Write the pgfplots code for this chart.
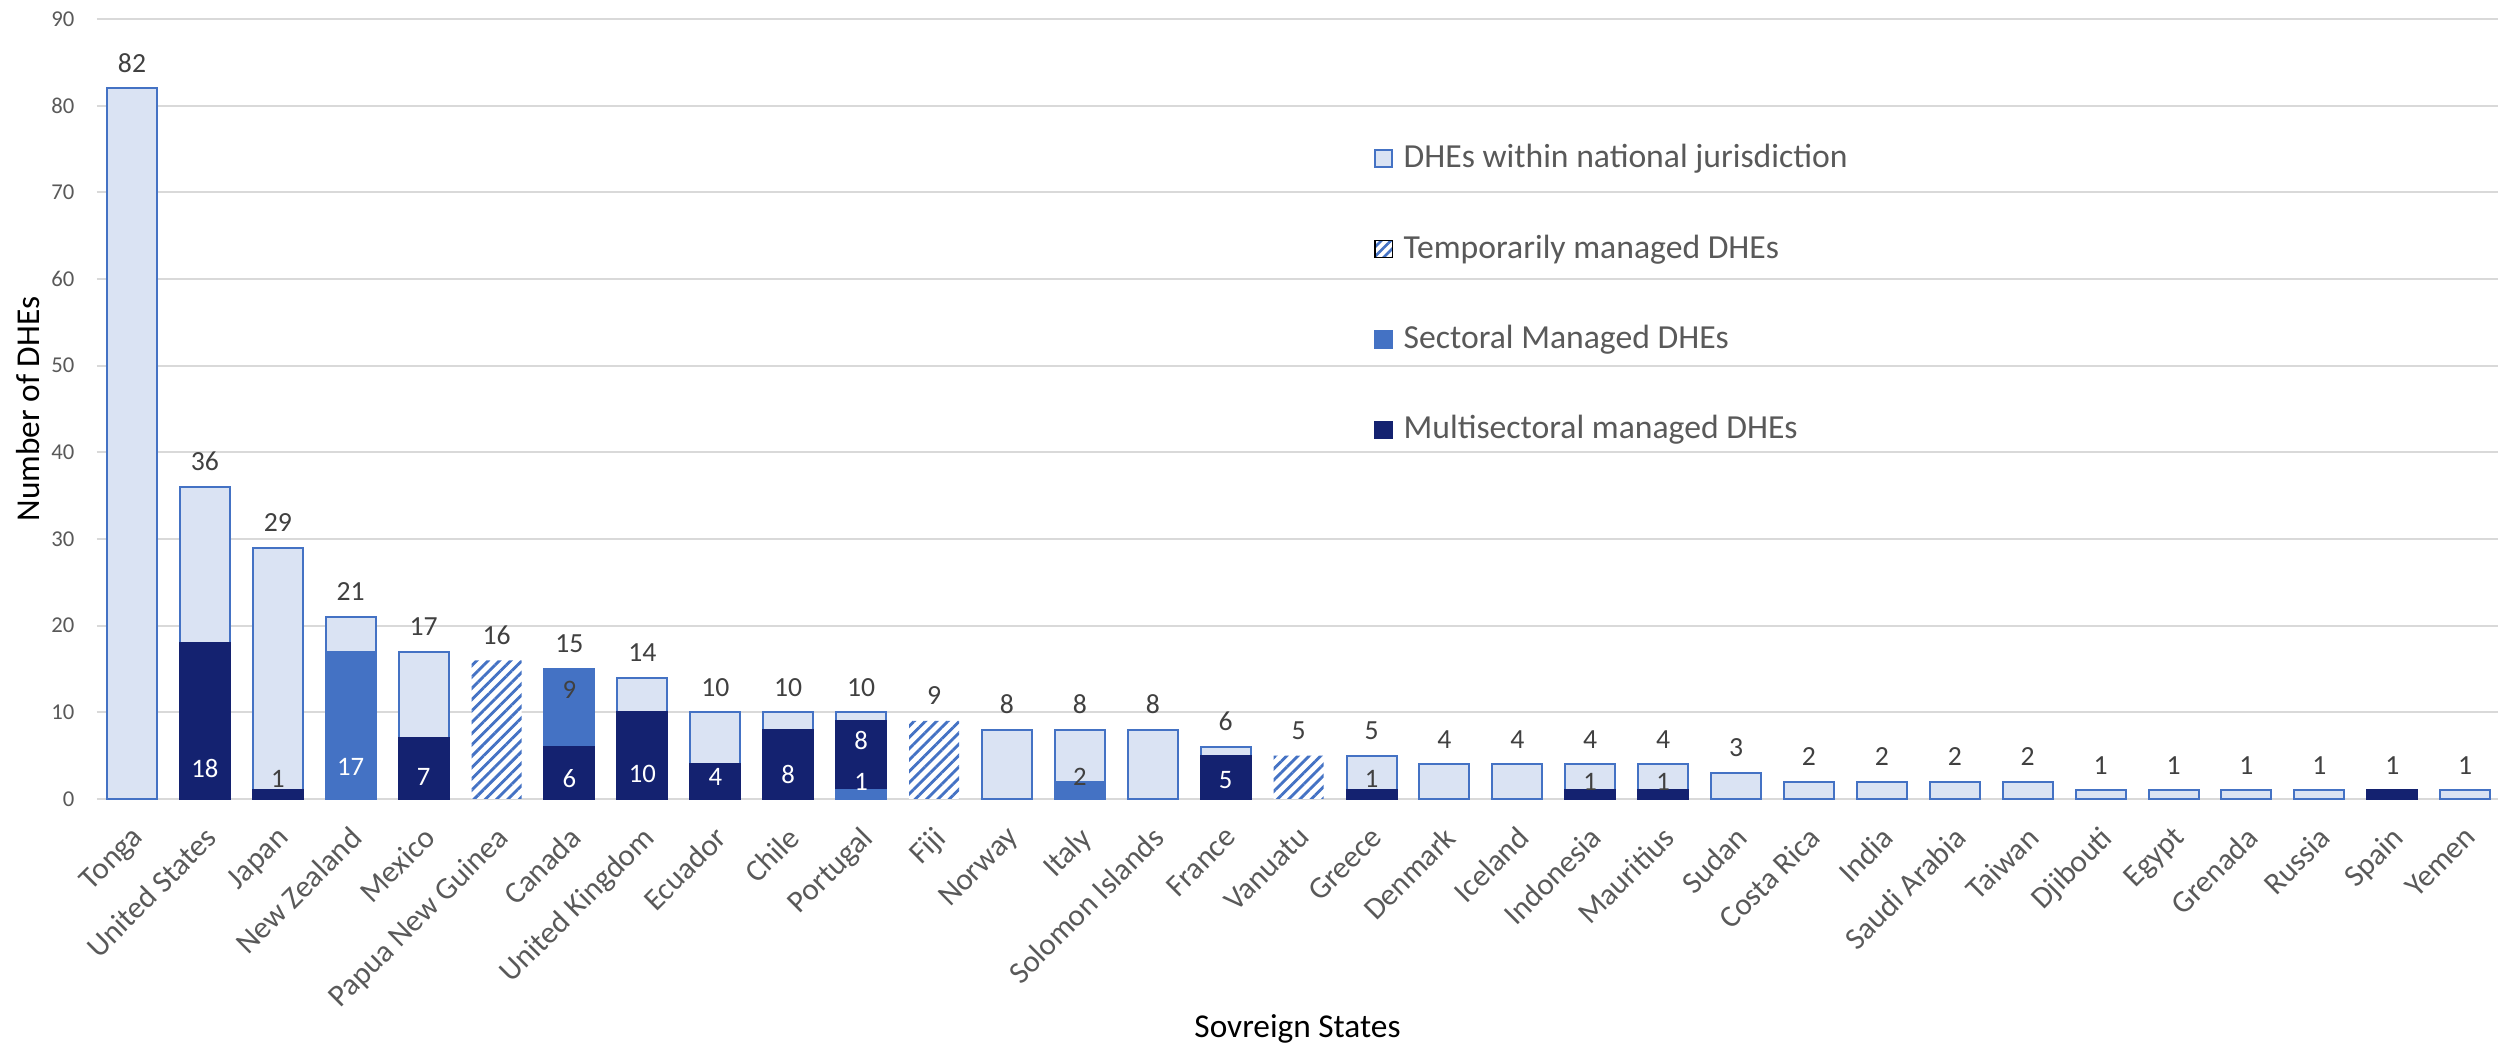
\documentclass[border=0pt]{standalone}
\usepackage{fontspec}
\setmainfont{Carlito}
\usepackage{pgfplots}
\pgfplotsset{compat=1.18}
\usetikzlibrary{patterns.meta}
\definecolor{lightb}{HTML}{DAE3F3}
\definecolor{edgeb}{HTML}{4472C4}
\definecolor{secb}{HTML}{4472C4}
\definecolor{navy}{HTML}{142270}
\definecolor{gridc}{HTML}{D9D9D9}
\definecolor{tickc}{HTML}{595959}
\definecolor{labc}{HTML}{404040}
\pgfplotsset{
  sqlegend/.style={legend image code/.code={\draw[##1] (0pt,-2.6pt) rectangle (5.2pt,2.6pt);}},
  hatchlegend/.style={legend image code/.code={\fill[pattern={Lines[angle=45,distance=2pt,line width=0.8pt]}, pattern color=edgeb] (0pt,-2.6pt) rectangle (5.2pt,2.6pt);}},
}
\begin{document}
\begin{tikzpicture}
\begin{axis}[
  scale only axis, width=720.3pt, height=234pt,
  xmin=-0.48, xmax=32.45, ymin=0, ymax=90,
  clip=false,
  /pgf/number format/assume math mode=true,
  ytick={0,10,...,90},
  xtick={0,...,32},
  xticklabels={Tonga,United States,Japan,New Zealand,Mexico,Papua New Guinea,Canada,United Kingdom,Ecuador,Chile,Portugal,Fiji,Norway,Italy,Solomon Islands,France,Vanuatu,Greece,Denmark,Iceland,Indonesia,Mauritius,Sudan,Costa Rica,India,Saudi Arabia,Taiwan,Djibouti,Egypt,Grenada,Russia,Spain,Yemen},
  ymajorgrids, grid style={gridc, line width=0.6pt},
  axis line style={draw=none}, major tick length=0pt, tick style={draw=none},
  yticklabel style={font=\fontsize{6.8}{8}\selectfont, text=tickc, anchor=east, inner sep=0pt, xshift=-6.6pt},
  xticklabel style={font=\fontsize{9.3}{10}\selectfont, text=tickc, inner sep=0pt, xshift=-0.6pt, yshift=-7.5pt, rotate=45, anchor=north east},
  xlabel={Sovreign States}, ylabel={Number of DHEs},
  xlabel style={font=\fontsize{10}{12}\selectfont, at={(axis description cs:0.5,0)}, anchor=base, yshift=-71.7pt},
  ylabel style={font=\fontsize{10}{12}\selectfont, at={(axis description cs:-0.0287,0.5)}, anchor=center},
  legend style={at={(axis cs:17.02,75.6)}, anchor=north west, draw=none, fill=none, inner sep=0pt,
    row sep=18.6pt, column sep=3pt, font=\fontsize{10.1}{12}\selectfont, text=tickc,
    nodes={inner sep=0pt}},
  legend cell align=left,
]
\addlegendimage{fill=lightb, draw=edgeb, line width=0.6pt, sqlegend}
\addlegendentry{DHEs within national jurisdiction}
\addlegendimage{hatchlegend}
\addlegendentry{Temporarily managed DHEs}
\addlegendimage{fill=secb, draw=secb, line width=0.3pt, sqlegend}
\addlegendentry{Sectoral Managed DHEs}
\addlegendimage{fill=navy, draw=navy, line width=0.3pt, sqlegend}
\addlegendentry{Multisectoral managed DHEs}

% DHEs within national jurisdiction (bar top = total)
\addplot[ybar, bar width=15pt, bar shift=0pt, fill=lightb, draw=edgeb, line width=0.6pt] coordinates {
(0,82)(1,36)(2,29)(3,21)(4,17)(7,14)(8,10)(9,10)(10,10)(12,8)(13,8)(14,8)(15,6)(17,5)(18,4)(19,4)(20,4)(21,4)(22,3)(23,2)(24,2)(25,2)(26,2)(27,1)(28,1)(29,1)(30,1)(32,1)};
% Temporarily managed
\addplot[ybar, bar width=15pt, bar shift=0pt, fill=white, draw=none,
  postaction={pattern={Lines[angle=45,distance=2.4pt,line width=0.85pt]}, pattern color=edgeb}] coordinates {
(5,16)(11,9)(16,5)};
% Sectoral on top of multisectoral (Canada, top of segment)
\addplot[ybar, bar width=15pt, bar shift=0pt, fill=secb, draw=secb, line width=0.6pt] coordinates {(6,15)};
% Multisectoral (top of segment)
\addplot[ybar, bar width=15pt, bar shift=0pt, fill=navy, draw=navy, line width=0.6pt] coordinates {
(1,18)(2,1)(4,7)(6,6)(7,10)(8,4)(9,8)(10,9)(15,5)(17,1)(20,1)(21,1)(31,1)};
% Sectoral at the base
\addplot[ybar, bar width=15pt, bar shift=0pt, fill=secb, draw=secb, line width=0.6pt] coordinates {
(3,17)(10,1)(13,2)};

% totals
\addplot[draw=none, mark=none, nodes near coords, point meta=explicit symbolic,
  nodes near coords style={anchor=base, yshift=4.8pt, font=\fontsize{8.3}{9}\selectfont, text=labc, inner sep=0pt}] coordinates {
(0,82)[82](1,36)[36](2,29)[29](3,21)[21](4,17)[17](5,16)[16](6,15)[15](7,14)[14](8,10)[10](9,10)[10](10,10)[10]
(11,9)[9](12,8)[8](13,8)[8](14,8)[8](15,6)[6](16,5)[5](17,5)[5](18,4)[4](19,4)[4](20,4)[4](21,4)[4](22,3)[3]
(23,2)[2](24,2)[2](25,2)[2](26,2)[2](27,1)[1](28,1)[1](29,1)[1](30,1)[1](31,1)[1](32,1)[1]};
% inner labels, white
\addplot[draw=none, mark=none, nodes near coords, point meta=explicit symbolic,
  nodes near coords style={anchor=center, font=\fontsize{8}{9}\selectfont, text=white, inner sep=0pt}] coordinates {
(1,3.5)[18](3,3.7)[17](4,2.6)[7](6,2.3)[6](7,2.9)[10](8,2.5)[4](9,2.8)[8](10,6.7)[8](10,2.0)[1](15,2.2)[5]};
% inner labels, dark
\addplot[draw=none, mark=none, nodes near coords, point meta=explicit symbolic,
  nodes near coords style={anchor=center, font=\fontsize{8}{9}\selectfont, text=labc, inner sep=0pt}] coordinates {
(2,2.3)[1](6,12.6)[9](13,2.5)[2](17,2.3)[1](20,2.0)[1](21,2.0)[1]};
\end{axis}
\pgfresetboundingbox
\path[use as bounding box] ([xshift=-29.1pt,yshift=-74.4pt]current axis.south west) rectangle ([yshift=5.7pt]current axis.north east);
\end{tikzpicture}
\end{document}
